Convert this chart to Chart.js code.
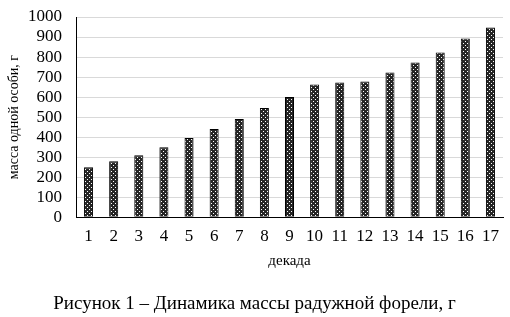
<!DOCTYPE html>
<html><head><meta charset="utf-8">
<script src="https://cdn.jsdelivr.net/npm/chart.js@4/dist/chart.umd.min.js"></script>
<style>html,body{margin:0;padding:0;background:#fff;}#wrap{width:510px;height:317px;position:relative;}</style>
</head><body><div id="wrap"><canvas id="c" width="510" height="317"></canvas></div>
<script>
const categories = ['1','2','3','4','5','6','7','8','9','10','11','12','13','14','15','16','17'];
const massValues = [250, 280, 310, 350, 395, 440, 490, 545, 600, 663, 673, 678, 723, 773, 823, 893, 948];
const yTitle = 'масса одной особи, г';
const xTitle = 'декада';
const caption = 'Рисунок 1 – Динамика массы радужной форели, г';

function makePattern(){
  const t = document.createElement('canvas'); t.width = 4; t.height = 4;
  const g = t.getContext('2d');
  g.fillStyle = '#262626'; g.fillRect(0,0,4,4);
  g.fillStyle = '#ffffff'; g.fillRect(1,1,1,1); g.fillRect(3,3,1,1);
  return document.getElementById('c').getContext('2d').createPattern(t,'repeat');
}
const fam = '"Liberation Serif","Times New Roman",serif';
const font = {family:fam, size:17};
new Chart(document.getElementById('c'), {
  type:'bar',
  data:{labels:categories, datasets:[{data:massValues, backgroundColor:makePattern(), borderColor:'#000', borderWidth:1, barPercentage:0.36, categoryPercentage:1}]},
  options:{
    responsive:false, animation:false,
    layout:{padding:{left:6,right:7,top:17,bottom:2}},
    plugins:{legend:{display:false}, tooltip:{enabled:false},
      title:{display:true, position:'bottom', text:caption, color:'#000', font:{family:fam,size:19,weight:'normal'}, padding:{top:18,bottom:0}}},
    scales:{
      x:{grid:{display:false, drawTicks:false}, border:{display:true,color:'#000',width:1},
         ticks:{color:'#000', font:font, padding:9, maxRotation:0, autoSkip:false},
         title:{display:true, text:xTitle, color:'#000', font:{family:fam,size:15}, padding:{top:2,bottom:4}},
         afterFit:s=>{s.height = 57;}},
      y:{min:0, max:1000, ticks:{stepSize:100, autoSkip:false, color:'#000', font:font, padding:14, callback:v=>String(v)},
         grid:{color:'#d9d9d9', drawTicks:false}, border:{display:true,color:'#000',width:1},
         title:{display:true, text:yTitle, color:'#000', font:{family:fam,size:14}, padding:{top:0,bottom:0}},
         afterFit:s=>{s.width = 70; s.paddingTop = 0; s.paddingBottom = 0;}}
    }
  }
});
</script></body></html>
